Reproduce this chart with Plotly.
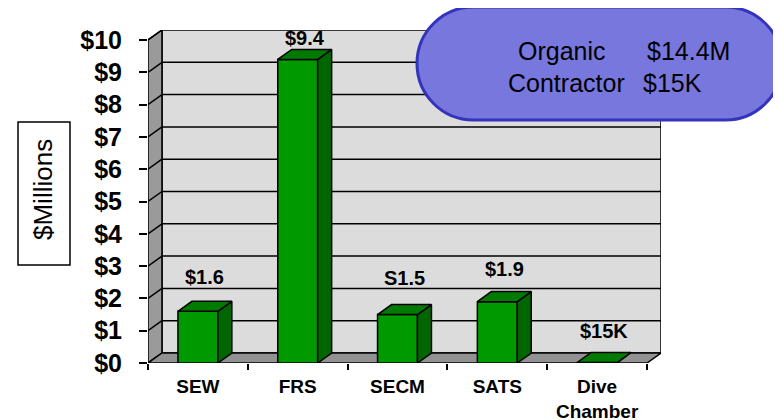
import plotly.graph_objects as go

# ---------------- data ----------------
categories = ["SEW", "FRS", "SECM", "SATS", "Dive Chamber"]
tick_labels = ["SEW", "FRS", "SECM", "SATS", "Dive<br>Chamber"]
values = [1.6, 9.4, 1.5, 1.9, 0.015]          # $ millions
value_labels = ["$1.6", "$9.4", "S1.5", "$1.9", "$15K"]
y_ticks = list(range(0, 11))
y_tick_labels = [f"${v}" for v in y_ticks]
callout_rows = [("Organic", "$14.4M"), ("Contractor", "$15K")]
axis_title = "$Millions"

# ---------------- layout constants ----------------
OFF = 8                      # page body margin of the browser
WIN_W, WIN_H = 781, 420
W, H = WIN_W - OFF, WIN_H - OFF
L, R, T, B = 148 - OFF, 120, 30 - OFF, 57
PW, PH = W - L - R, H - T - B
DX = 0.14          # depth offset in category units
YMAX = 10
DY = 0.31          # depth offset in value units
HALF = 0.2         # half bar width
LABEL_YSHIFT = [11, -2, 14, 10, 9]
FONT = "Arial, Liberation Sans, Helvetica, sans-serif"

xs = list(range(len(categories)))
x0, x1 = -0.5, len(categories) - 0.5


def paper(px, py):
    """window pixel -> paper coords"""
    fx, fy = px - OFF, py - OFF
    return (fx - L) / PW, (H - B - fy) / PH


fig = go.Figure()

# ---- 3D box: back wall, side wall, floor ----
shapes = []
shapes.append(dict(type="rect", xref="x", yref="y", x0=x0 + DX, x1=x1 + DX, y0=DY, y1=YMAX + DY,
                   fillcolor="#DCDCDC", line=dict(color="black", width=1.5), layer="below"))
for k in range(1, YMAX):
    shapes.append(dict(type="line", xref="x", yref="y", x0=x0 + DX, x1=x1 + DX, y0=k + DY, y1=k + DY,
                       line=dict(color="black", width=1.5), layer="below"))
side = f"M {x0},0 L {x0 + DX},{DY} L {x0 + DX},{YMAX + DY} L {x0},{YMAX} Z"
shapes.append(dict(type="path", xref="x", yref="y", path=side, fillcolor="#9A9A9A",
                   line=dict(color="black", width=1.5), layer="below"))
for k in range(1, YMAX + 1):
    shapes.append(dict(type="line", xref="x", yref="y", x0=x0, x1=x0 + DX, y0=k, y1=k + DY,
                       line=dict(color="black", width=1.5), layer="below"))
floor = f"M {x0},0 L {x1},0 L {x1 + DX},{DY} L {x0 + DX},{DY} Z"
shapes.append(dict(type="path", xref="x", yref="y", path=floor, fillcolor="#929292",
                   line=dict(color="black", width=1.5), layer="below"))

# ---- bar side and top faces ----
for i, v in zip(xs, values):
    fig.add_trace(go.Scatter(
        x=[i + HALF, i + HALF + DX, i + HALF + DX, i + HALF, i + HALF],
        y=[0, DY, v + DY, v, 0],
        mode="lines", fill="toself", fillcolor="#006600",
        line=dict(color="black", width=1.5), hoverinfo="skip", showlegend=False))
    fig.add_trace(go.Scatter(
        x=[i - HALF, i + HALF, i + HALF + DX, i - HALF + DX, i - HALF],
        y=[v, v, v + DY, v + DY, v],
        mode="lines", fill="toself", fillcolor="#007A00",
        line=dict(color="black", width=1.5), hoverinfo="skip", showlegend=False))

# ---- bar front faces ----
fig.add_trace(go.Bar(x=xs, y=values, width=2 * HALF, marker=dict(color="#009900",
                     line=dict(color="black", width=1.5)), hoverinfo="skip", showlegend=False))

annotations = []
for i, v, lab, ys in zip(xs, values, value_labels, LABEL_YSHIFT):
    annotations.append(dict(x=i + DX / 2, y=v + DY, xref="x", yref="y", text=f"<b>{lab}</b>",
                            showarrow=False, yanchor="bottom", yshift=ys,
                            font=dict(family=FONT, size=20, color="black")))

# ---- callout pill ----
left, right, top, bottom = 417, 782, 7, 120
r = (bottom - top) / 2
mid = (top + bottom) / 2
k = 0.5523 * r
pts = [
    ("M", [(left + r, top)]),
    ("C", [(left + r - k, top), (left, mid - k), (left, mid)]),
    ("C", [(left, mid + k), (left + r - k, bottom), (left + r, bottom)]),
    ("L", [(right - r, bottom)]),
    ("C", [(right - r + k, bottom), (right, mid + k), (right, mid)]),
    ("C", [(right, mid - k), (right - r + k, top), (right - r, top)]),
]
path = ""
for cmd, plist in pts:
    path += cmd + " " + " ".join("{:.5f},{:.5f}".format(*paper(px, py)) for px, py in plist) + " "
path += "Z"
shapes.append(dict(type="path", xref="paper", yref="paper", path=path, fillcolor="#7777DD",
                   line=dict(color="#3333BB", width=3), layer="above"))

row_y = [51, 83]
col_x = [[562, 688], [566, 672]]
for (a, b), yy, cx in zip(callout_rows, row_y, col_x):
    for txt, xx in zip((a, b), cx):
        px_, py_ = paper(xx, yy)
        annotations.append(dict(x=px_, y=py_, xref="paper", yref="paper", text=txt, showarrow=False,
                                xanchor="center", yanchor="middle",
                                font=dict(family=FONT, size=25, color="black")))

# ---- $Millions box ----
bx0, by0 = paper(18, 122)
bx1, by1 = paper(70, 265)
shapes.append(dict(type="rect", xref="paper", yref="paper", x0=bx0, x1=bx1, y0=by1, y1=by0,
                   line=dict(color="black", width=1.5), fillcolor="white"))
tx, ty = paper(43, 190)
annotations.append(dict(x=tx, y=ty, xref="paper", yref="paper", text=axis_title, textangle=-90,
                        showarrow=False, xanchor="center", yanchor="middle",
                        font=dict(family=FONT, size=26, color="black")))

fig.update_layout(
    width=W, height=H, margin=dict(l=L, r=R, t=T, b=B, pad=0, autoexpand=False),
    paper_bgcolor="white", plot_bgcolor="white",
    shapes=shapes, annotations=annotations, showlegend=False,
    xaxis=dict(range=[x0, x1 + DX], tickmode="array", tickvals=xs, ticktext=[f"<b>{t}</b>" for t in tick_labels],
               ticks="outside", ticklen=6, tickcolor="rgba(0,0,0,0)", showgrid=False, zeroline=False,
               showline=False, automargin=False, tickfont=dict(family=FONT, size=19, color="black"),
               minor=dict(tickmode="array", tickvals=[x + 0.5 for x in [-1] + xs], ticks="outside",
                          ticklen=6, tickcolor="black", tickwidth=1.5, showgrid=False)),
    yaxis=dict(range=[0, YMAX + DY], tickmode="array", tickvals=y_ticks,
               ticktext=[f"<b>{t}</b>" for t in y_tick_labels],
               ticks="outside", ticklen=8, tickcolor="black", tickwidth=1.5, showgrid=False,
               zeroline=False, showline=False, ticklabelstandoff=12, automargin=False,
               tickfont=dict(family=FONT, size=25, color="black")),
)

fig.write_html("out.html")
